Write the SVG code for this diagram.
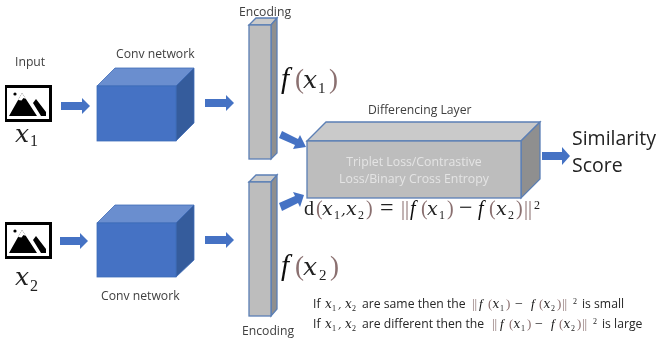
<svg xmlns="http://www.w3.org/2000/svg" width="658" height="343" viewBox="0 0 658 343">
<style>
.l{font-family:"Open Sans","Liberation Sans",sans-serif;fill:#404040;font-size:12.2px}
.m{font-family:"Liberation Serif","DejaVu Serif",serif;font-style:italic;fill:#111}
.x{font-family:"DejaVu Serif","Liberation Serif",serif;font-style:italic;fill:#222}
.u{font-family:"Liberation Serif","DejaVu Serif",serif;fill:#222}
.p{font-family:"Liberation Serif","DejaVu Serif",serif;fill:#8a6f6f}
.b{fill:#4472c4}
.cf{fill:#4472c4;stroke:#3f6cb8;stroke-width:.8}
.ct{fill:#6a8ecf;stroke:#3f6cb8;stroke-width:.8}
.cs{fill:#345c9c;stroke:#3f6cb8;stroke-width:.8}
.gf{fill:#bdbdbd;stroke:#5b7fb5;stroke-width:1.300}
.gt{fill:#cacaca;stroke:#5b7fb5;stroke-width:1.300}
.gs{fill:#8f8f8f;stroke:#5b7fb5;stroke-width:1.300}
.s{font-family:"Open Sans","Liberation Sans",sans-serif;fill:#262626;font-size:12.2px}
.t{font-family:"Open Sans","Liberation Sans",sans-serif;fill:#e4e4e4;font-size:12.3px;text-anchor:middle}
.v{font-family:"Open Sans","Liberation Sans",sans-serif;fill:#222;font-size:19.500px}
</style>
<defs>
<filter id="soft" x="0" y="0" width="100%" height="100%"><feGaussianBlur stdDeviation="0.35"/></filter>
<g id="icon">
<rect x="5.500" y="1.500" width="45" height="34" fill="#fff" stroke="#000" stroke-width="3"/>
<path d="M9 31 L22 8 L37 31Z M33 18 L36 14 L46 27 V31 H41Z" fill="#000"/>
<path d="M18 15 L22 8 L26 14 L23.500 13 L21.500 15.500Z" fill="#fff"/>
<circle cx="15" cy="9" r="1.600" fill="#000"/>
</g>
</defs>
<g id="diagram" filter="url(#soft)">
<g id="connectors">
<path class="b" d="M61 102H82V98L90 106L82 114V110H61Z"/>
<path class="b" d="M205 99H226V95L234 103L226 111V107H205Z"/>
<path class="b" d="M60 237H80V233L88 241L80 249V245H60Z"/>
<path class="b" d="M205 236H226V232L234 240L226 248V244H205Z"/>
<path class="b" d="M282 131L298 139L300 135L306 147L293 149L295 145L279 138Z"/>
<path class="b" d="M279 203L295 196L293 192L304 195L300 207L298 203L282 211Z"/>
<path class="b" d="M542 152H562V147L570 156L562 165V160H542Z"/>
</g>
<g id="input1">
<text class="l" x="15" y="66">Input</text>
<use href="#icon" y="85"/>
<text class="x" x="15" y="142" font-size="25">x</text><text class="u" x="30" y="146" font-size="16">1</text>
</g>
<g id="input2">
<use href="#icon" y="222"/>
<text class="x" x="15" y="285" font-size="25">x</text><text class="u" x="30" y="291" font-size="16">2</text>
</g>
<g id="conv1">
<text class="l" x="116" y="58">Conv network</text>
<path class="ct" d="M97 86L115 68H194L176 86Z"/><path class="cs" d="M176 86L194 68V123L176 141Z"/><rect class="cf" x="97" y="86" width="79" height="55"/>
</g>
<g id="conv2">
<text class="l" x="101" y="300">Conv network</text>
<path class="ct" d="M97 223L115 205H194L176 223Z"/><path class="cs" d="M176 223L194 205V260L176 277Z"/><rect class="cf" x="97" y="223" width="79" height="54"/>
</g>
<g id="encoding1">
<text class="l" x="239" y="16">Encoding</text>
<path class="gt" d="M249 25L256 18H277L271 25Z"/><path class="gs" d="M271 25L277 18V153L271 159Z"/><rect class="gf" x="249" y="25" width="22" height="134"/>
<text class="m" x="281" y="88" font-size="29">f</text><text class="p" x="295" y="88" font-size="27">(</text><text class="x" x="303" y="88" font-size="25">x</text><text class="u" x="318" y="93" font-size="15">1</text><text class="p" x="329" y="88" font-size="27">)</text>
</g>
<g id="encoding2">
<path class="gt" d="M249 182L256 175H277L271 182Z"/><path class="gs" d="M271 182L277 175V309L271 316Z"/><rect class="gf" x="249" y="182" width="22" height="134"/>
<text class="m" x="281" y="275" font-size="29">f</text><text class="p" x="295" y="275" font-size="27">(</text><text class="x" x="303" y="275" font-size="25">x</text><text class="u" x="319" y="280" font-size="15">2</text><text class="p" x="330" y="275" font-size="27">)</text>
<text class="l" x="242" y="335">Encoding</text>
</g>
<g id="differencing">
<text class="l" x="368" y="114">Differencing Layer</text>
<path class="gt" d="M307 141L326 122H540L521 141Z"/><path class="gs" d="M521 141L540 122V179L521 198Z"/><rect class="gf" x="307" y="141" width="214" height="57"/>
<text class="t" x="414" y="166">Triplet Loss/Contrastive</text>
<text class="t" x="414" y="183">Loss/Binary Cross Entropy</text>
</g>
<g id="formula">
<text class="u" x="304" y="215" font-size="20">d</text><text class="p" x="316" y="215" font-size="20">(</text><text class="x" x="322" y="215" font-size="19">x</text><text class="u" x="334" y="219" font-size="12">1</text><text class="x" x="341" y="215" font-size="15">,</text><text class="x" x="346" y="215" font-size="19">x</text><text class="u" x="358" y="219" font-size="12">2</text><text class="p" x="366" y="215" font-size="20">)</text><text class="u" x="380" y="215" font-size="24">=</text><text class="p" x="401" y="215" font-size="20">||</text><text class="m" x="410" y="215" font-size="20">f</text><text class="p" x="421" y="215" font-size="20">(</text><text class="x" x="427" y="215" font-size="19">x</text><text class="u" x="439" y="219" font-size="12">1</text><text class="p" x="447" y="215" font-size="20">)</text><text class="u" x="459" y="215" font-size="24">−</text><text class="m" x="478" y="215" font-size="20">f</text><text class="p" x="489" y="215" font-size="20">(</text><text class="x" x="496" y="215" font-size="19">x</text><text class="u" x="508" y="219" font-size="12">2</text><text class="p" x="516" y="215" font-size="20">)</text><text class="p" x="524" y="215" font-size="20">||</text><text class="u" x="534" y="209" font-size="12">2</text>
</g>
<g id="score">
<text class="v" x="572" y="145">Similarity</text>
<text class="v" x="572" y="172">Score</text>
</g>
<g id="notes">
<text class="s" x="313" y="308">If</text><text class="x" x="325" y="308" font-size="12">x</text><text class="u" x="332" y="311" font-size="8">1</text><text class="x" x="338" y="308" font-size="11">,</text><text class="x" x="345" y="308" font-size="12">x</text><text class="u" x="352" y="311" font-size="8">2</text><text class="s" x="362" y="308">are same then the</text><text class="p" x="472" y="308" font-size="13">||</text><text class="m" x="479" y="308" font-size="13">f</text><text class="p" x="488" y="308" font-size="13">(</text><text class="x" x="492.500" y="308" font-size="12">x</text><text class="u" x="500" y="311" font-size="8">1</text><text class="p" x="506" y="308" font-size="13">)</text><text class="u" x="515" y="308" font-size="14">−</text><text class="m" x="531" y="308" font-size="13">f</text><text class="p" x="539" y="308" font-size="13">(</text><text class="x" x="543.500" y="308" font-size="12">x</text><text class="u" x="551" y="311" font-size="8">2</text><text class="p" x="557" y="308" font-size="13">)</text><text class="p" x="562" y="308" font-size="13">||</text><text class="u" x="573" y="304" font-size="8">2</text><text class="s" x="582" y="308">is small</text>
<text class="s" x="313" y="328">If</text><text class="x" x="325" y="328" font-size="12">x</text><text class="u" x="332" y="331" font-size="8">1</text><text class="x" x="338" y="328" font-size="11">,</text><text class="x" x="345" y="328" font-size="12">x</text><text class="u" x="352" y="331" font-size="8">2</text><text class="s" x="362" y="328">are different then the</text><text class="p" x="492" y="328" font-size="13">||</text><text class="m" x="500" y="328" font-size="13">f</text><text class="p" x="509" y="328" font-size="13">(</text><text class="x" x="513.500" y="328" font-size="12">x</text><text class="u" x="521" y="331" font-size="8">1</text><text class="p" x="527" y="328" font-size="13">)</text><text class="u" x="535" y="328" font-size="14">−</text><text class="m" x="551" y="328" font-size="13">f</text><text class="p" x="559" y="328" font-size="13">(</text><text class="x" x="563.500" y="328" font-size="12">x</text><text class="u" x="571" y="331" font-size="8">2</text><text class="p" x="577" y="328" font-size="13">)</text><text class="p" x="582" y="328" font-size="13">||</text><text class="u" x="593" y="324" font-size="8">2</text><text class="s" x="602" y="328">is large</text>
</g>
</g>
</svg>
